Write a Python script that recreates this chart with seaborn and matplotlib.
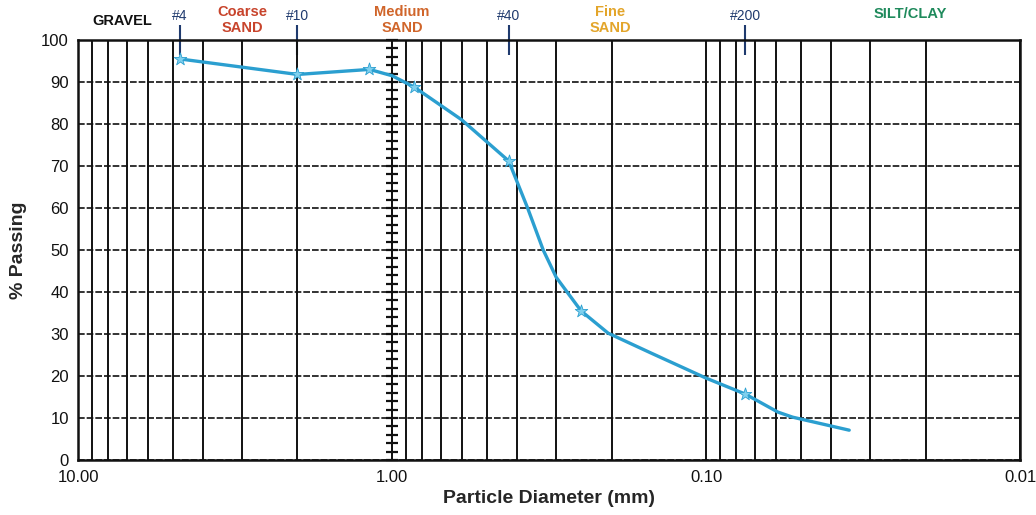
import numpy as np
import pandas as pd
import matplotlib
matplotlib.use("Agg")
import matplotlib.pyplot as plt
from matplotlib.ticker import LogLocator, FixedLocator, NullFormatter, MultipleLocator
import seaborn as sns

# ---------------------------------------------
# data
# ---------------------------------------------
# sieve results (marked points)
sieve_mm = [4.75, 2.0, 1.18, 0.85, 0.425, 0.25, 0.075]
sieve_pass = [95.5, 91.8, 93.0, 88.8, 71.2, 35.5, 15.7]

# drawn curve (sieve + hydrometer trace)
curve_mm = [4.75, 2.0, 1.18, 1.0, 0.85, 0.6, 0.425, 0.37, 0.33, 0.30, 0.25,
            0.205, 0.15, 0.10, 0.075, 0.059, 0.053, 0.035]
curve_pass = [95.5, 91.8, 93.0, 91.5, 88.8, 81.0, 71.2, 60.0, 50.0, 43.5, 35.5,
              30.2, 25.5, 19.5, 15.7, 11.4, 10.2, 7.1]

sieve_names = ["#4", "#10", "#40", "#200"]
sieve_sizes = [4.75, 2.0, 0.425, 0.075]

zones = ["GRAVEL", "Coarse\nSAND", "Medium\nSAND", "Fine\nSAND", "SILT/CLAY"]
zone_x = [7.2, 3.0, 0.93, 0.202, 0.0224]
zone_y = [102.9, 101.3, 101.3, 101.3, 104.6]
zone_colors = ["#111111", "#c8442c", "#d0652a", "#e3a52a", "#1f8a5c"]

curve = pd.DataFrame({"d": curve_mm, "p": curve_pass})
pts = pd.DataFrame({"d": sieve_mm, "p": sieve_pass})

# ---------------------------------------------
# plot
# ---------------------------------------------
sns.set_theme(style="white")
plt.rcParams["font.family"] = ["Liberation Sans", "DejaVu Sans"]

fig = plt.figure(figsize=(10.36, 5.15), dpi=100)
ax = fig.add_axes([0.0753, 0.1068, 0.9093, 0.8155])

sns.lineplot(data=curve, x="d", y="p", ax=ax, color="#2b9fd0", linewidth=2.4)
sns.scatterplot(data=pts, x="d", y="p", ax=ax, marker="*", s=90,
                color="#7fd0ee", edgecolor="#2b9fd0", linewidth=0.6, zorder=5)

ax.set_xscale("log")
ax.set_xlim(10, 0.01)
ax.set_ylim(0, 100)

ax.xaxis.set_major_locator(FixedLocator([10, 1, 0.1, 0.01]))
ax.set_xticklabels(["10.00", "1.00", "0.10", "0.01"])
ax.xaxis.set_minor_locator(LogLocator(base=10, subs=np.arange(2, 10)))
ax.xaxis.set_minor_formatter(NullFormatter())
ax.yaxis.set_major_locator(MultipleLocator(10))

# grid: solid verticals, dashed horizontals
ax.grid(True, axis="x", which="both", color="#111111", linewidth=1.4, linestyle="-")
ax.grid(True, axis="y", which="major", color="#111111", linewidth=1.2,
        linestyle=(0, (4, 1.2)))
ax.set_axisbelow(True)
for s in ax.spines.values():
    s.set_color("#111111")
    s.set_linewidth(1.8)

ax.tick_params(axis="both", which="major", labelsize=12, length=3, color="#111111",
               labelcolor="#111111")
ax.tick_params(axis="x", which="minor", length=0)
ax.tick_params(axis="x", which="major", pad=4)

# ladder of tick marks along the 1.00 mm line
ladder = ax.secondary_yaxis(1 / 3)
ladder.spines["right"].set_linewidth(2.4)
ladder.spines["right"].set_color("#111111")
ladder.yaxis.set_major_locator(MultipleLocator(2))
ladder.tick_params(axis="y", direction="inout", length=9, width=1.6,
                   color="#111111", labelright=False, labelleft=False)
ladder.set_yticklabels([])

# sieve numbers along the top
top = ax.secondary_xaxis("top")
top.xaxis.set_major_locator(FixedLocator(sieve_sizes))
top.xaxis.set_minor_locator(FixedLocator([]))
top.set_xticklabels(sieve_names)
top.tick_params(axis="x", direction="inout", length=21, width=1.5, color="#1f3a6e",
                labelcolor="#1f3a6e", labelsize=10, pad=2)
top.spines["top"].set_visible(False)

# soil zone labels
for name, xv, yv, col in zip(zones, zone_x, zone_y, zone_colors):
    ax.text(xv, yv, name, color=col, ha="center", va="bottom", fontsize=10.5,
            fontweight="bold", linespacing=1.1, clip_on=False)

ax.set_xlabel("Particle Diameter (mm)", fontsize=14, fontweight="bold", labelpad=4)
ax.set_ylabel("% Passing", fontsize=14, fontweight="bold", labelpad=10)

fig.savefig("out.png", dpi=100)
